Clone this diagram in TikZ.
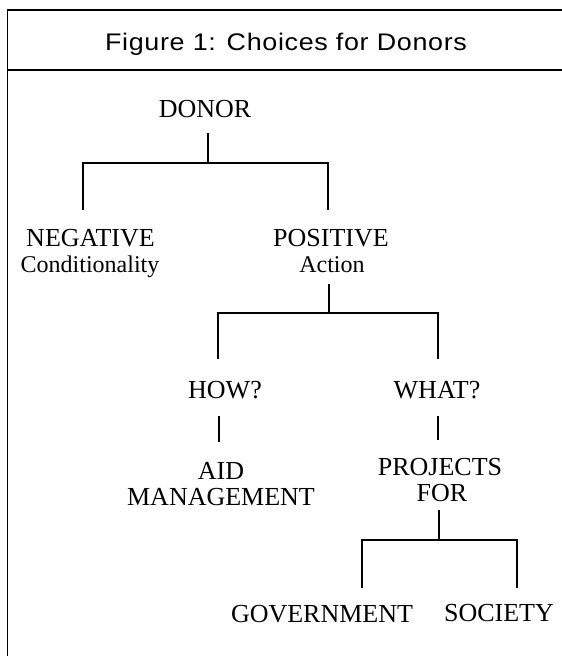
\documentclass[tikz,border=0pt]{standalone}
\usepackage{fontspec}
\setmainfont{Liberation Serif}
\newfontfamily\titlefont[LetterSpace=2.5]{Liberation Sans}
\begin{document}
\begin{tikzpicture}[x=1pt,y=-1pt,
  lbl/.style={anchor=base,inner sep=0pt,font=\fontsize{26}{26}\selectfont},
  sublbl/.style={anchor=base,inner sep=0pt,font=\fontsize{24}{24}\selectfont},
  conn/.style={line width=2pt},
  framestyle/.style={line width=1.8pt}]
\useasboundingbox (0,0) rectangle (562,656);
% frame
\coordinate (fbl) at (7.5,656);
\coordinate (ftl) at (7.5,10);
\coordinate (ftr) at (562,10);
\coordinate (fsl) at (7.5,70);
\coordinate (fsr) at (562,70);
\draw[framestyle] (fbl) -- (ftl) -- (ftr);
\draw[framestyle] (fsl) -- (fsr);
\node[anchor=base,inner sep=0pt,font=\titlefont\fontsize{24}{24}\selectfont] (title) at (286,50) {\scalebox{1.12}[1]{Figure 1: Choices for Donors}};
% nodes
\node[lbl] (donor) at (205,117) {DONOR};
\node[lbl] (neg) at (90.5,246) {NEGATIVE};
\node[sublbl] (cond) at (90,272) {Conditionality};
\node[lbl] (pos) at (331,246) {POSITIVE};
\node[sublbl] (act) at (332,272) {Action};
\node[lbl] (how) at (225,398) {HOW?};
\node[lbl] (what) at (437,398) {WHAT?};
\node[lbl] (aid) at (221,479) {AID};
\node[lbl] (mgmt) at (221,505) {MANAGEMENT};
\node[lbl] (proj) at (440,475) {PROJECTS};
\node[lbl] (for) at (442,501) {FOR};
\node[lbl] (gov) at (322,622) {GOVERNMENT};
\node[lbl] (soc) at (499,621) {SOCIETY};
% connector points
\coordinate (d0) at (208,133);
\coordinate (d1) at (208,163);
\coordinate (dl) at (83,163);
\coordinate (dr) at (328,163);
\coordinate (negT) at (83,210);
\coordinate (posT) at (328,210);
\coordinate (a0) at (329,284);
\coordinate (a1) at (329,313);
\coordinate (al) at (218,313);
\coordinate (ar) at (438,313);
\coordinate (howT) at (218,359);
\coordinate (whatT) at (438,359);
\coordinate (howB) at (219,416);
\coordinate (aidT) at (219,442);
\coordinate (whatB) at (438,416);
\coordinate (projT) at (438,440);
\coordinate (f0) at (439,510);
\coordinate (f1) at (439,540);
\coordinate (fl) at (362,540);
\coordinate (fr) at (517,540);
\coordinate (govT) at (362,588);
\coordinate (socT) at (517,588);
% connectors
\draw[conn] (d0) -- (d1);
\draw[conn] (negT) -- (dl) -- (dr) -- (posT);
\draw[conn] (a0) -- (a1);
\draw[conn] (howT) -- (al) -- (ar) -- (whatT);
\draw[conn] (howB) -- (aidT);
\draw[conn] (whatB) -- (projT);
\draw[conn] (f0) -- (f1);
\draw[conn] (govT) -- (fl) -- (fr) -- (socT);
\end{tikzpicture}
\end{document}
